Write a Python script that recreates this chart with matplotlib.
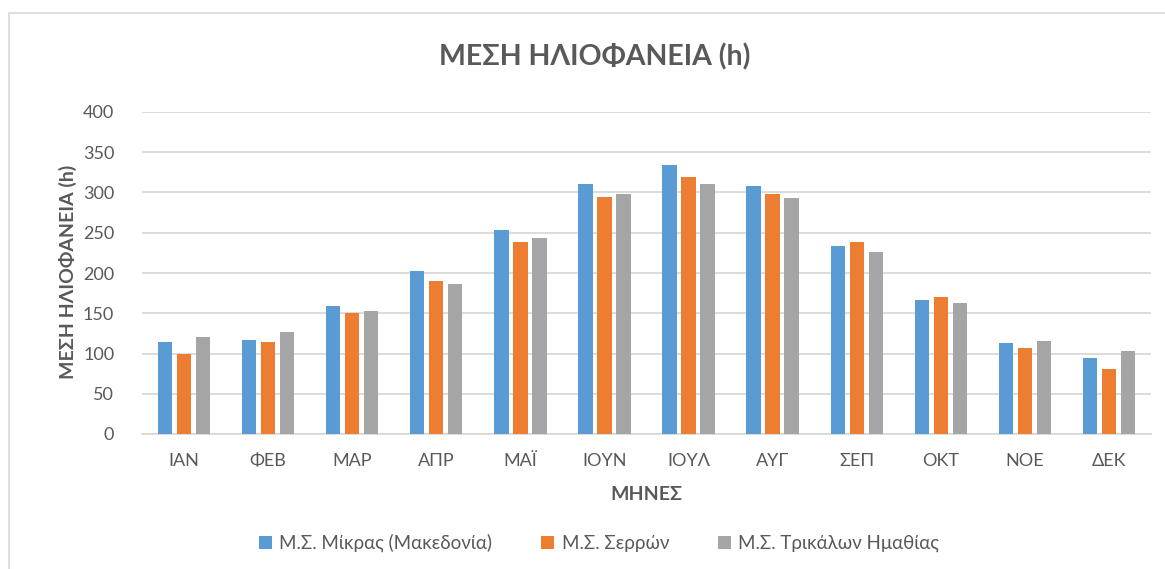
import matplotlib
matplotlib.use("Agg")
import matplotlib.pyplot as plt
import numpy as np
from matplotlib.patches import Rectangle

plt.rcParams['font.family'] = ['Lato', 'Roboto', 'DejaVu Sans']

months = ["ΙΑΝ", "ΦΕΒ", "ΜΑΡ", "ΑΠΡ", "ΜΑΪ", "ΙΟΥΝ", "ΙΟΥΛ", "ΑΥΓ", "ΣΕΠ", "ΟΚΤ", "ΝΟΕ", "ΔΕΚ"]
mikra = [114, 117, 159, 203, 254, 310, 334, 308, 233, 166, 113, 95]
serres = [100, 114, 150, 190, 238, 295, 319, 298, 238, 170, 107, 81]
trikala = [120, 127, 153, 186, 244, 298, 311, 293, 226, 163, 116, 103]
series_names = ["Μ.Σ. Μίκρας (Μακεδονία)", "Μ.Σ. Σερρών", "Μ.Σ. Τρικάλων Ημαθίας"]
colors = ["#5B9BD5", "#ED7D31", "#A5A5A5"]
yticks = [0, 50, 100, 150, 200, 250, 300, 350, 400]

W, H = 1165, 569
fig = plt.figure(figsize=(W/100, H/100), dpi=100)
fig.patch.set_facecolor("white")

# outer chart frame
fig.patches.append(Rectangle((9/W, -0.05), 1.1, 1 - 13/H + 0.05, transform=fig.transFigure,
                             fill=False, edgecolor="#D9D9D9", linewidth=1.2, zorder=0))

ax = fig.add_axes([142/W, 1 - 434/H, (1151-142)/W, (434-112)/H])
x = np.arange(len(months))
offs = 0.226
bw = 0.17
for i, (vals, name, c) in enumerate(zip([mikra, serres, trikala], series_names, colors)):
    ax.bar(x + (i-1)*offs, vals, width=bw, color=c, label=name, zorder=3)

ax.set_xlim(-0.5, len(months)-0.5)
ax.set_ylim(0, 400)
ax.set_yticks(yticks)
ax.set_xticks(x)
ax.set_xticklabels(months)
ax.yaxis.grid(True, color="#D9D9D9", linewidth=1.3, zorder=0)
ax.set_axisbelow(True)
for s in ["top", "right", "left"]:
    ax.spines[s].set_visible(False)
ax.spines["bottom"].set_color("#D9D9D9")
ax.spines["bottom"].set_linewidth(1.3)
ax.tick_params(axis="both", length=0, labelsize=13, labelcolor="#595959")
ax.tick_params(axis="y", pad=20)
ax.tick_params(axis="x", pad=14)

fig.text(595/W, 1 - 57/H, "ΜΕΣΗ ΗΛΙΟΦΑΝΕΙΑ (h)", ha="center", va="center",
         fontsize=20.5, fontweight="bold", color="#595959")
fig.text(68/W, 1 - 272/H, "ΜΕΣΗ ΗΛΙΟΦΑΝΕΙΑ (h)", ha="center", va="center", rotation=90,
         fontsize=14, fontweight="bold", color="#595959")
fig.text(646/W, 1 - 495/H, "ΜΗΝΕΣ", ha="center", va="center",
         fontsize=14, fontweight="bold", color="#595959")

leg = fig.legend(loc="center", bbox_to_anchor=(599/W, 1 - 543/H), ncol=3, frameon=False,
                 fontsize=13.5, handlelength=0.7, handleheight=0.7, handletextpad=0.4,
                 columnspacing=2.6, labelcolor="#595959")

fig.savefig("out.png", dpi=100)
